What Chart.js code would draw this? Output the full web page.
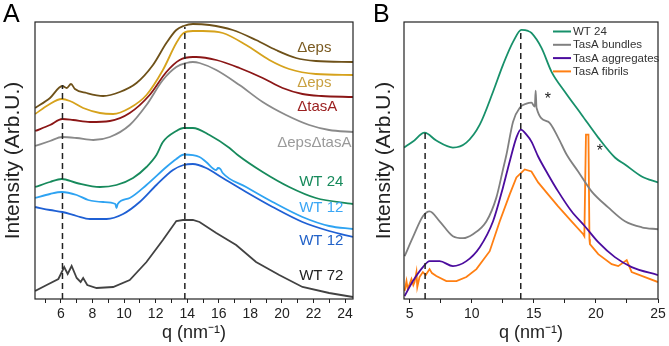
<!DOCTYPE html>
<html>
<head>
<meta charset="utf-8">
<script src="https://cdn.jsdelivr.net/npm/chart.js@4.4.0/dist/chart.umd.min.js"></script>
<style>
    body { margin: 0; background: #fff; }
    #wrap { position: relative; width: 669px; height: 346px; }
    #boxA { position: absolute; left: 0; top: 0; }
    #boxB { position: absolute; left: 364px; top: 0; }
</style>
</head>
<body>
<div id="wrap">
    <canvas id="boxA" width="364" height="346"></canvas>
    <canvas id="boxB" width="305" height="346"></canvas>
</div>
<script>
// ---- Panel A: offset scattering profiles (q in nm^-1, intensity in arbitrary units) ----
const depsQ = [4.37, 5.31, 6.09, 6.37, 6.64, 6.89, 7.63, 8.68, 9.73, 10.79, 11.83, 12.68, 13.31, 13.77, 14.36, 15.41, 16.88, 18.36, 19.62, 20.89, 22.15, 24.5];
const depsI = [191, 201, 213, 211, 215, 210, 206, 203, 207, 216, 234, 256, 269, 273, 275, 274, 269, 259, 249, 241, 238, 237];

const deps2Q = [4.37, 5.2, 6.05, 6.57, 7.41, 8.47, 9.31, 10.36, 11.42, 12.46, 13.31, 13.77, 14.36, 14.99, 16.25, 17.73, 19.2, 20.46, 22.15, 24.5];
const deps2I = [185, 194, 200, 198, 191, 186, 185, 191, 204, 229, 256, 266, 268, 268, 266, 254, 239, 230, 225, 224];

const dtasQ = [4.37, 5.31, 6.09, 6.78, 7.84, 9.1, 10.36, 11.62, 12.68, 13.52, 14.36, 14.57, 15.84, 17.31, 18.78, 20.04, 21.3, 22.5, 24.5];
const dtasI = [168, 174, 180, 179, 177, 178, 186, 204, 227, 239, 242, 242, 239, 231, 221, 211, 205, 203, 202];

const depsTasQ = [4.37, 5.31, 6.09, 7.0, 8.05, 9.1, 10.36, 11.42, 12.46, 13.31, 13.94, 14.36, 14.78, 15.84, 17.31, 18.78, 20.26, 21.73, 22.99, 24.5];
const depsTasI = [153, 158, 162, 161, 159, 162, 174, 194, 219, 232, 236, 237, 236, 229, 214, 197, 184, 174, 169, 167];

const wt24Q = [4.37, 5.31, 6.05, 7.0, 8.47, 9.52, 10.57, 11.42, 12.05, 12.46, 13.31, 13.77, 14.36, 15.41, 16.68, 17.2, 18.78, 20.46, 22.15, 24.5];
const wt24I = [112, 117, 120, 116, 112, 114, 121, 132, 144, 157, 168, 171, 171, 164, 151, 144, 127, 112, 101, 95];

const wt12aQ = [4.37, 5.31, 6.05, 7.0, 7.73, 8.68, 9.45, 9.52, 9.6, 10.36, 11.42, 12.68, 13.31, 13.8, 14.78, 15.2, 15.84, 15.95, 16.1, 16.25, 17.73, 19.41, 21.3, 22.99, 24.5];
const wt12aI = [101, 105, 107, 104, 99, 97, 95, 91, 95, 101, 114, 132, 140, 144.5, 142, 137, 129, 131, 130, 126, 112, 97, 82, 73, 70];

const wt12bQ = [4.37, 5.31, 6.09, 7.0, 7.84, 8.89, 9.94, 10.99, 12.05, 13.1, 13.77, 14.36, 15.2, 16.25, 17.73, 19.41, 21.3, 22.99, 24.5];
const wt12bI = [92, 89, 87, 83, 80, 80, 85, 97, 114, 129, 134, 135, 131, 121, 107, 92, 77, 68, 62];

const wt72Q = [4.37, 5.1, 5.84, 6.21, 6.43, 6.68, 7.0, 7.25, 7.41, 7.67, 8.26, 9.31, 10.36, 11.42, 12.46, 13.31, 13.73, 14.36, 14.78, 15.84, 17.1, 18.36, 19.83, 21.3, 22.99, 24.5];
const wt72I = [8, 14, 20, 32, 25, 33, 21, 17, 21, 14, 11, 12, 19, 37, 59, 78, 79, 79, 77, 66, 54, 37, 24, 12, 6, 2];

const dashAQ = [6.1, 13.85];
const dashATop = [214, 272];

const ticksA = [5, 6, 7, 8, 9, 10, 11, 12, 13, 14, 15, 16, 17, 18, 19, 20, 21, 22, 23, 24];

// ---- Panel B ----
const bWt24Q = [4.55, 5.27, 6.21, 7.15, 8.49, 9.57, 10.65, 11.72, 12.52, 13.33, 14.01, 14.54, 14.81, 15.62, 16.43, 17.5, 18.85, 20.19, 21.53, 22.34, 23.69, 25];
const bWt24I = [152, 158, 167, 159, 152, 157, 175, 208, 235, 258, 270, 269, 267, 252, 228, 208, 185, 162, 142, 135, 123, 117];

const bundQ = [4.6, 5.27, 6.07, 6.61, 7.42, 8.49, 9.3, 10.1, 11.19, 11.99, 12.52, 12.8, 13.33, 13.87, 14.41, 14.81, 15.08, 15.15, 15.22, 16.15, 16.96, 17.64, 18.57, 19.65, 20.99, 22.34, 23.69, 25];
const bundI = [43, 62, 83, 88, 78, 63, 61, 65, 78, 102, 130, 145, 178, 192, 196, 197, 193, 209, 192, 178, 162, 145, 128, 108, 92, 78, 72, 70];

const aggQ = [4.6, 5.27, 6.07, 6.61, 7.42, 8.49, 9.57, 10.65, 11.72, 12.52, 13.06, 13.6, 13.95, 14.41, 14.81, 15.35, 16.15, 16.96, 18.04, 19.11, 20.19, 21.53, 22.88, 25];
const aggI = [3, 18, 32, 38, 38, 33, 38, 52, 78, 112, 138, 162, 170, 165, 158, 143, 125, 108, 88, 73, 57, 42, 32, 24];

const fibQ = [4.6, 4.75, 4.85, 5.0, 5.15, 5.3, 5.4, 5.55, 5.62, 5.8, 6.07, 6.3, 6.61, 6.8, 7.15, 7.96, 8.77, 9.57, 10.38, 11.45, 12.26, 13.06, 13.6, 14.27, 14.81, 15.35, 16.15, 16.96, 18.04, 18.98, 19.07, 19.2, 19.4, 19.48, 19.52, 20.19, 21.27, 21.8, 22.48, 22.88, 23.95, 25];
const fibI = [8, 18, 10, 15, 20, 14, 17, 27, 12, 22, 27, 24, 30, 26, 23, 18, 18, 22, 30, 48, 78, 105, 122, 130, 128, 117, 105, 93, 78, 65, 63, 165, 165, 60, 55, 45, 35, 33, 39, 27, 22, 17];

const dashBQ = [6.25, 13.95];
const dashBTop = [167, 270];

const ticksB = [5, 7.5, 10, 12.5, 15, 17.5, 20, 22.5, 25];

const FONT = '"Liberation Sans", Arial, Helvetica, sans-serif';
const INK = '#222';

function pts(q, v) {
    return q.map((x, i) => ({ x: x, y: v[i] }));
}

function curve(label, q, v, color, smooth = true) {
    return {
        label: label,
        data: pts(q, v),
        borderColor: color,
        borderWidth: 1.8,
        pointRadius: 0,
        fill: false,
        cubicInterpolationMode: smooth ? 'monotone' : 'default',
        tension: smooth ? 0.4 : 0
    };
}

function dashes(qs, tops) {
    return qs.map((q, i) => ({
        label: '',
        data: [{ x: q, y: 0 }, { x: q, y: tops[i] }],
        borderColor: INK,
        borderWidth: 1.5,
        borderDash: [6, 4],
        pointRadius: 0,
        tension: 0
    }));
}

// frame, panel letter, in-plot notes and (panel B) legend
function decor(cfg) {
    return {
        id: 'decor',
        afterDraw(chart) {
            const { ctx, chartArea: a } = chart;
            const xs = chart.scales.x, ys = chart.scales.y;
            ctx.save();
            ctx.strokeStyle = INK;
            ctx.lineWidth = 1.2;
            ctx.strokeRect(a.left, a.top, a.right - a.left, a.bottom - a.top);

            ctx.fillStyle = '#000';
            ctx.font = '25px ' + FONT;
            ctx.textBaseline = 'top';
            ctx.textAlign = 'left';
            ctx.fillText(cfg.letter, cfg.letterX, 3);

            ctx.textBaseline = 'middle';
            (cfg.notes || []).forEach(n => {
                ctx.font = n.size + 'px ' + FONT;
                ctx.fillStyle = n.color;
                ctx.fillText(n.text, xs.getPixelForValue(n.q), ys.getPixelForValue(n.v));
            });

            if (cfg.legend) {
                const items = chart.data.datasets.filter(d => d.label);
                ctx.font = '11.5px ' + FONT;
                items.forEach((d, i) => {
                    const y = a.top + 9.5 + i * 13.3;
                    ctx.strokeStyle = d.borderColor;
                    ctx.lineWidth = 2;
                    ctx.beginPath();
                    ctx.moveTo(a.right - 105, y);
                    ctx.lineTo(a.right - 87, y);
                    ctx.stroke();
                    ctx.fillStyle = '#333';
                    ctx.fillText(d.label, a.right - 85, y + 0.5);
                });
            }
            ctx.restore();
        }
    };
}

function axes(xmin, xmax, tickList, labelEvery, ymax, yWidth, yTitlePad) {
    return {
        x: {
            type: 'linear', min: xmin, max: xmax, bounds: 'data',
            grid: { drawOnChartArea: false, drawTicks: true, tickLength: 4, color: INK },
            border: { display: false },
            afterBuildTicks: s => { s.ticks = tickList.map(v => ({ value: v })); },
            ticks: {
                autoSkip: false, maxRotation: 0,
                font: { size: 14, family: FONT }, color: INK, padding: 3,
                callback: v => (Math.abs(v % labelEvery) < 1e-6 ? v : '')
            },
            title: { display: true, text: 'q (nm⁻¹)', font: { size: 18, family: FONT }, color: INK, padding: { top: 0, bottom: 2 } },
            afterFit: s => { s.height = 47; }
        },
        y: {
            min: 0, max: ymax,
            grid: { display: false },
            border: { display: false },
            ticks: { display: false },
            title: { display: true, text: 'Intensity (Arb.U.)', font: { size: 21, family: FONT }, color: INK, padding: { top: yTitlePad, bottom: 0 } },
            afterFit: s => { s.width = yWidth; }
        }
    };
}

const baseOpts = {
    responsive: false,
    animation: false,
    devicePixelRatio: 1,
    plugins: { legend: { display: false }, tooltip: { enabled: false } }
};

new Chart(document.getElementById('boxA'), {
    type: 'line',
    data: {
        datasets: [
            ...dashes(dashAQ, dashATop),
            curve('WT 72', wt72Q, wt72I, '#424242', false),
            curve('WT 12', wt12bQ, wt12bI, '#1f60d4'),
            curve('WT 12', wt12aQ, wt12aI, '#2ea3f2'),
            curve('WT 24', wt24Q, wt24I, '#178a5c'),
            curve('ΔepsΔtasA', depsTasQ, depsTasI, '#8a8a8a'),
            curve('ΔtasA', dtasQ, dtasI, '#8b1616'),
            curve('Δeps', deps2Q, deps2I, '#d6a21c'),
            curve('Δeps', depsQ, depsI, '#6e5119')
        ]
    },
    options: {
        ...baseOpts,
        layout: { padding: { top: 22, right: 11, left: 0, bottom: 0 } },
        scales: axes(4.36, 24.5, ticksA, 2, 277, 35, 1)
    },
    plugins: [decor({
        letter: 'A', letterX: 3,
        notes: [
            { text: 'Δeps', q: 20.97, v: 250.7, color: '#7a5a20', size: 15 },
            { text: 'Δeps', q: 20.97, v: 216.3, color: '#c9a040', size: 15 },
            { text: 'ΔtasA', q: 20.97, v: 192.3, color: '#9b2020', size: 15 },
            { text: 'ΔepsΔtasA', q: 19.7, v: 156.3, color: '#9a9a9a', size: 15 },
            { text: 'WT 24', q: 21.09, v: 116.7, color: '#178a5c', size: 15 },
            { text: 'WT 12', q: 21.09, v: 90.7, color: '#3aa6f5', size: 15 },
            { text: 'WT 12', q: 21.09, v: 58, color: '#2262c8', size: 15 },
            { text: 'WT 72', q: 21.09, v: 23.3, color: '#222', size: 15 }
        ]
    })]
});

new Chart(document.getElementById('boxB'), {
    type: 'line',
    data: {
        datasets: [
            ...dashes(dashBQ, dashBTop),
            curve('WT 24', bWt24Q, bWt24I, '#17906a'),
            curve('TasA bundles', bundQ, bundI, '#808080'),
            curve('TasA aggregates', aggQ, aggI, '#4b0c9e'),
            curve('TasA fibrils', fibQ, fibI, '#ff7f12', false)
        ]
    },
    options: {
        ...baseOpts,
        layout: { padding: { top: 22, right: 11, left: 0, bottom: 0 } },
        scales: axes(4.55, 25, ticksB, 5, 278, 40, 7.4)
    },
    plugins: [decor({
        letter: 'B', letterX: 9,
        legend: true,
        notes: [
            { text: '*', q: 15.89, v: 200, color: '#222', size: 16 },
            { text: '*', q: 20.06, v: 148, color: '#222', size: 16 }
        ]
    })]
});
</script>
</body>
</html>
